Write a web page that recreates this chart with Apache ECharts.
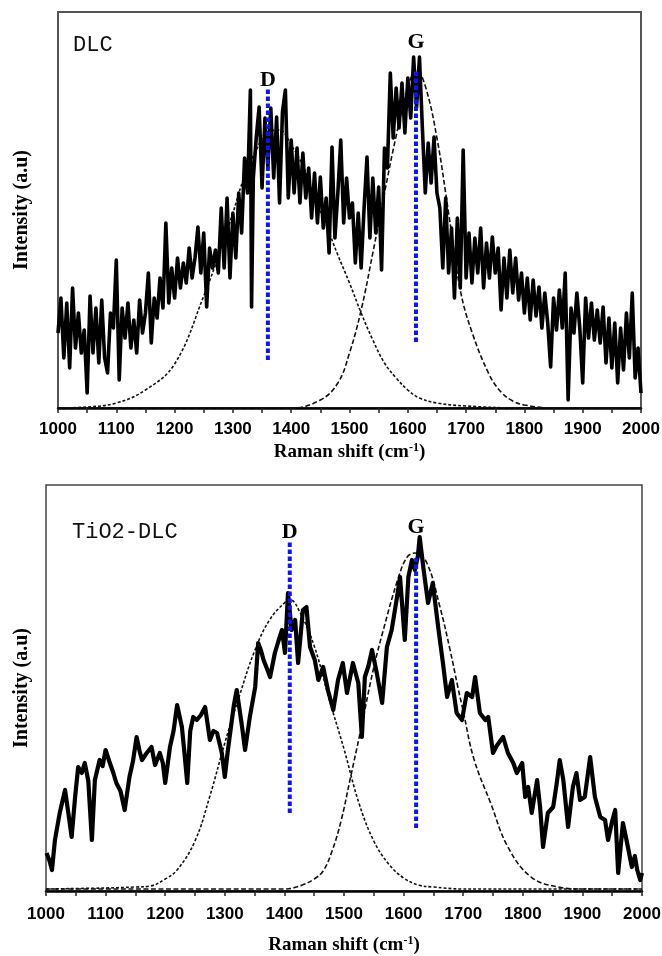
<!DOCTYPE html>
<html>
<head>
<meta charset="utf-8">
<script src="https://cdn.jsdelivr.net/npm/echarts@6/dist/echarts.min.js"></script>
<style>html,body{margin:0;padding:0;background:#fff;}#c{width:662px;height:956px;}</style>
</head>
<body>
<div id="c"></div>
<script>
// ---------- DATA (Raman shift cm-1, intensity in arbitrary units) ----------
const xTicks = [1000, 1100, 1200, 1300, 1400, 1500, 1600, 1700, 1800, 1900, 2000];

// Panel 1: DLC measured spectrum
const dlcSpectrum = [
[1000,75],[1005,110],[1010,50],[1015,105],[1020,40],[1025,120],[1030,60],[1035,95],[1040,55],[1045,78],
[1050,15],[1055,112],[1060,55],[1065,100],[1070,45],[1075,108],[1080,50],[1085,35],[1090,95],[1095,80],
[1100,148],[1105,28],[1110,100],[1115,70],[1120,105],[1125,60],[1130,88],[1135,55],[1140,108],[1145,75],
[1150,95],[1155,135],[1160,65],[1165,110],[1170,90],[1175,130],[1180,100],[1185,185],[1190,105],[1195,140],
[1200,110],[1205,150],[1210,120],[1215,145],[1220,125],[1225,160],[1230,130],[1235,150],[1240,181],[1245,135],
[1250,175],[1255,101],[1260,160],[1265,140],[1270,158],[1275,135],[1280,200],[1285,140],[1290,210],[1295,130],
[1300,195],[1305,150],[1310,215],[1315,175],[1320,250],[1325,215],[1330,318],[1332,101],[1335,230],[1340,270],[1345,301],
[1350,220],[1355,290],[1360,240],[1365,300],[1370,230],[1375,291],[1380,205],[1385,296],[1390,318],[1395,210],
[1400,268],[1405,215],[1410,260],[1415,205],[1420,255],[1425,210],[1430,240],[1435,190],[1440,235],[1445,185],
[1450,231],[1455,180],[1460,210],[1465,155],[1470,261],[1475,170],[1480,215],[1485,268],[1490,185],[1495,230],
[1500,190],[1505,205],[1510,145],[1515,195],[1520,140],[1525,200],[1530,251],[1535,170],[1540,230],[1545,175],
[1550,221],[1555,138],[1560,260],[1565,240],[1570,335],[1575,270],[1580,320],[1585,280],[1590,325],[1595,275],
[1600,330],[1605,290],[1610,351],[1615,300],[1620,351],[1625,280],[1630,215],[1635,265],[1640,225],[1645,271],
[1650,215],[1655,200],[1660,140],[1665,210],[1670,135],[1675,180],[1680,110],[1685,190],[1690,120],[1695,258],
[1700,130],[1705,175],[1710,125],[1715,170],[1720,135],[1725,180],[1730,120],[1735,165],[1740,130],[1745,171],
[1750,135],[1755,160],[1760,98],[1765,150],[1770,110],[1775,158],[1780,115],[1785,150],[1790,108],[1795,135],
[1800,95],[1805,130],[1810,88],[1815,128],[1820,92],[1825,121],[1830,80],[1835,115],[1840,85],[1845,41],
[1850,110],[1855,78],[1860,118],[1865,80],[1870,135],[1875,8],[1880,100],[1885,75],[1890,115],[1895,80],
[1900,25],[1905,110],[1910,70],[1915,105],[1920,68],[1925,98],[1930,65],[1935,101],[1940,45],[1945,90],
[1950,40],[1955,85],[1960,25],[1965,80],[1970,38],[1975,95],[1980,50],[1985,115],[1990,30],[1995,60],[2000,15]
];
// Panel 1: fitted D and G bands
const dlcFitD = [[1000,0],[1050,1],[1100,5],[1150,18],[1200,44],[1250,112],[1280,160],[1300,195],[1320,232],[1340,258],[1360,276],[1380,278],[1400,263],[1420,242],[1440,212],[1460,183],[1480,153],[1500,125],[1520,95],[1540,68],[1560,45],[1580,30],[1600,18],[1620,10],[1650,5],[1700,2],[1800,0],[2000,0]];
const dlcFitG = [[1000,0],[1400,0],[1450,8],[1480,25],[1500,55],[1520,98],[1540,155],[1560,215],[1580,272],[1600,320],[1615,338],[1630,322],[1650,270],[1670,195],[1690,118],[1710,76],[1740,33],[1760,16],[1780,7],[1800,3],[1850,0],[2000,0]];

// Panel 2: TiO2-DLC measured spectrum
const tioSpectrum = [
[1001,38],[1006,30],[1010,21],[1015,51],[1023,78],[1032,101],[1037,80],[1043,54],[1049,95],[1054,124],[1060,118],[1065,128],
[1071,110],[1077,51],[1082,111],[1090,131],[1095,125],[1100,141],[1106,130],[1113,118],[1118,108],[1125,100],[1132,81],
[1140,114],[1146,130],[1152,154],[1157,140],[1161,131],[1169,138],[1177,144],[1183,126],[1191,138],[1196,128],[1200,108],
[1208,144],[1214,160],[1220,186],[1228,164],[1232,140],[1237,108],[1242,160],[1247,174],[1253,171],[1260,176],[1267,184],
[1275,151],[1281,160],[1287,158],[1295,138],[1300,114],[1305,140],[1309,158],[1315,185],[1320,201],[1329,164],[1334,141],
[1342,174],[1351,204],[1356,248],[1361,240],[1365,231],[1371,222],[1376,214],[1384,238],[1390,250],[1396,261],[1401,238],
[1406,298],[1412,261],[1418,271],[1423,228],[1431,281],[1437,284],[1443,244],[1451,231],[1457,211],[1465,224],[1473,201],
[1482,181],[1490,211],[1498,228],[1505,198],[1515,228],[1524,208],[1530,154],[1535,214],[1541,225],[1547,241],[1555,218],
[1564,188],[1572,244],[1580,261],[1589,294],[1594,314],[1602,251],[1608,314],[1614,331],[1619,321],[1624,335],[1627,354],
[1633,324],[1641,288],[1649,308],[1658,264],[1666,228],[1673,194],[1681,211],[1689,178],[1698,171],[1706,198],[1715,194],
[1720,214],[1728,178],[1737,171],[1742,174],[1750,138],[1756,145],[1762,150],[1767,154],[1775,138],[1784,128],[1790,118],
[1799,128],[1804,94],[1809,104],[1815,78],[1824,111],[1829,84],[1834,44],[1842,78],[1851,84],[1857,108],[1862,131],
[1868,111],[1876,64],[1884,104],[1890,118],[1896,91],[1904,94],[1913,134],[1921,94],[1930,74],[1938,71],[1943,51],
[1950,70],[1955,81],[1960,18],[1968,68],[1974,51],[1983,24],[1988,35],[1992,21],[1997,11],[2000,18]
];
// Panel 2: fitted D and G bands
const tioFitD = [[1000,2],[1100,3],[1150,4],[1175,5],[1200,12],[1220,21],[1250,50],[1275,95],[1300,148],[1325,196],[1350,240],[1375,271],[1400,288],[1410,291],[1425,280],[1450,245],[1475,192],[1500,142],[1525,88],[1550,50],[1575,27],[1600,13],[1625,6],[1650,4],[1700,2],[2000,2]];
const tioFitG = [[1000,2],[1400,2],[1430,6],[1450,12],[1465,20],[1480,40],[1495,70],[1510,111],[1527,158],[1549,221],[1566,261],[1590,311],[1606,334],[1620,338],[1639,328],[1661,284],[1678,241],[1691,204],[1700,180],[1718,132],[1746,88],[1775,44],[1814,14],[1859,4],[1900,2],[2000,2]];

// Peak marker lines (x position, lower and upper intensity) and labels
const dlcPeakLines = [{name:'D', x:1360, lo:48, hi:320, labelY:328}, {name:'G', x:1614, lo:66, hi:338, labelY:366}];
const tioPeakLines = [{name:'D', x:1409, lo:78, hi:349, labelY:359}, {name:'G', x:1621, lo:63, hi:333, labelY:364}];
const panelTitles = ['DLC', 'TiO2-DLC'];

// ---------- CHART ----------
const chart = echarts.init(document.getElementById('c'), null, {renderer:'canvas'});

function xAxisCfg(gridIndex, labelMargin, nameGap){
  return {
    gridIndex, type:'value', min:1000, max:2000, interval:100,
    axisLine:{show:true, onZero:false, lineStyle:{color:'#000', width:2.5}},
    axisTick:{show:true, inside:false, length:5, lineStyle:{color:'#222', width:1.5}},
    minorTick:{show:true, splitNumber:2, length:5, lineStyle:{color:'#222', width:1.5}},
    splitLine:{show:false}, minorSplitLine:{show:false},
    axisLabel:{show:true, margin:labelMargin, color:'#000', fontFamily:'Liberation Sans', fontWeight:'bold', fontSize:17,
      formatter: v => xTicks.includes(v) ? String(v) : ''},
    name:'Raman shift (cm{sup|-1})', nameLocation:'middle', nameGap:nameGap,
    nameTextStyle:{color:'#000', fontFamily:'Liberation Serif', fontWeight:'bold', fontSize:19,
      rich:{sup:{fontFamily:'Liberation Serif', fontWeight:'bold', fontSize:12, verticalAlign:'top', lineHeight:20}}}
  };
}
function yAxisCfg(gridIndex, max, nameGap){
  return {
    gridIndex, type:'value', min:0, max:max,
    axisLine:{show:false}, axisTick:{show:false}, axisLabel:{show:false}, splitLine:{show:false},
    name:'Intensity (a.u)', nameLocation:'middle', nameGap:nameGap,
    nameTextStyle:{color:'#000', fontFamily:'Liberation Serif', fontWeight:'bold', fontSize:20}
  };
}
function spectrumSeries(idx, data, width){
  return {type:'line', xAxisIndex:idx, yAxisIndex:idx, data, showSymbol:false, symbol:'none',
    lineStyle:{color:'#000', width:width, join:'round'}, z:3, silent:true};
}
function fitSeries(idx, data, dash){
  return {type:'line', xAxisIndex:idx, yAxisIndex:idx, data, showSymbol:false, symbol:'none', smooth:0.4,
    lineStyle:{color:'#111', width:1.6, type:dash}, z:2, silent:true};
}
function peakSeries(idx, peaks){
  const out = [];
  peaks.forEach(p => {
    out.push({type:'line', xAxisIndex:idx, yAxisIndex:idx, data:[[p.x,p.lo],[p.x,p.hi]], showSymbol:false, symbol:'none',
      lineStyle:{color:'#0a14ff', width:4, type:[4.5,2.5], cap:'butt'}, z:5, silent:true});
  });
  out.push({type:'scatter', xAxisIndex:idx, yAxisIndex:idx, symbol:'circle', symbolSize:1, silent:true, z:6,
    itemStyle:{color:'#fff', opacity:1},
    data: peaks.map(p => ({value:[p.x, p.labelY], name:p.name})),
    label:{show:true, position:'inside', formatter:'{b}', color:'#000', opacity:1, textBorderWidth:0,
      fontFamily:'Liberation Serif', fontWeight:'bold', fontSize:22}});
  return out;
}

const option = {
  backgroundColor:'#fff',
  animation:false,
  grid:[
    {left:58, right:21, top:12, height:396, show:true, borderColor:'#555', borderWidth:2, backgroundColor:'transparent', outerBoundsMode:'none', containLabel:false},
    {left:46, right:20, top:485, height:406, show:true, borderColor:'#444', borderWidth:1.5, backgroundColor:'transparent', outerBoundsMode:'none', containLabel:false}
  ],
  xAxis:[xAxisCfg(0, 13, 34), xAxisCfg(1, 15, 44)],
  yAxis:[yAxisCfg(0, 396, 26), yAxisCfg(1, 406, 14)],
  graphic:[
    {type:'text', left:73, top:34, style:{text:panelTitles[0], font:'22px "Liberation Mono"', fill:'#111'}},
    {type:'text', left:72, top:521, style:{text:panelTitles[1], font:'22px "Liberation Mono"', fill:'#111'}}
  ],
  series:[
    fitSeries(0, dlcFitD, [3,2]),
    fitSeries(0, dlcFitG, [5,2.5]),
    spectrumSeries(0, dlcSpectrum, 3.6),
    ...peakSeries(0, dlcPeakLines),
    fitSeries(1, tioFitD, [3,2]),
    fitSeries(1, tioFitG, [5,2.5]),
    spectrumSeries(1, tioSpectrum, 4.2),
    ...peakSeries(1, tioPeakLines)
  ]
};
chart.setOption(option);
</script>
</body>
</html>
